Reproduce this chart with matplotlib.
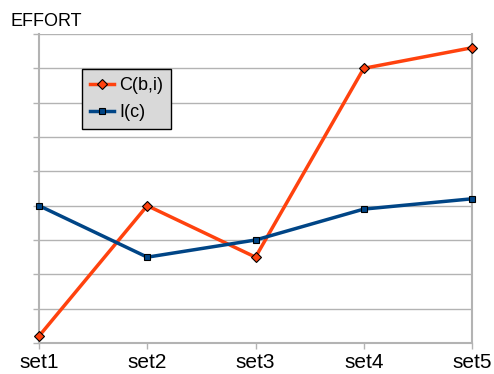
import matplotlib.pyplot as plt

plt.rcParams['font.family'] = ['Liberation Sans', 'DejaVu Sans']

sets = ['set1', 'set2', 'set3', 'set4', 'set5']
c_bi = [0.2, 4.0, 2.5, 8.0, 8.6]
i_c = [4.0, 2.5, 3.0, 3.9, 4.2]

grid_col = '#b3b3b3'

fig = plt.figure(figsize=(4.94, 3.74), dpi=100)
ax = fig.add_axes([39 / 494, 31 / 374, 433 / 494, 309 / 374])

x = range(len(sets))
ax.plot(x, c_bi, color='#ff420e', lw=2.5, marker='D', ms=5.5,
        markerfacecolor='#ff420e', markeredgecolor='black', markeredgewidth=0.8,
        label='C(b,i)', zorder=3, clip_on=False)
ax.plot(x, i_c, color='#004586', lw=2.5, marker='s', ms=5,
        markerfacecolor='#004586', markeredgecolor='black', markeredgewidth=0.8,
        label='I(c)', zorder=3, clip_on=False)

ax.set_xlim(0, len(sets) - 1)
ax.set_ylim(0, 9)
ax.set_xticks(list(x))
ax.set_xticklabels(sets, fontsize=15)
ax.set_yticks(range(10))
ax.set_yticklabels([])
ax.yaxis.grid(True, color=grid_col, lw=1)
ax.set_axisbelow(True)

ax.tick_params(axis='both', color=grid_col, length=4, width=1, pad=3)
for side in ['left', 'bottom', 'right']:
    ax.spines[side].set_color(grid_col)
    ax.spines[side].set_linewidth(1.5)
ax.spines['top'].set_visible(False)

fig.text(10 / 494, 1 - 13 / 374, 'EFFORT', fontsize=13, va='top', ha='left')

leg = ax.legend(loc='upper left', bbox_to_anchor=(43 / 433, (343 - 69) / 309),
                fontsize=13, fancybox=False, framealpha=1, facecolor='#d9d9d9',
                edgecolor='black', handlelength=1.3, handletextpad=0.3,
                borderpad=0.45, labelspacing=0.55, borderaxespad=0)
leg.get_frame().set_linewidth(1)

fig.savefig('out.png', dpi=100)
